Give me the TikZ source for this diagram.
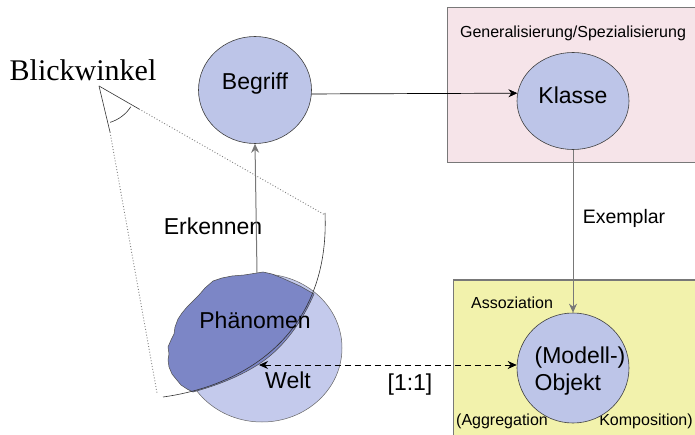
\documentclass[tikz,border=0pt]{standalone}
\usepackage{fontspec}
\setmainfont{Liberation Sans}
\newfontfamily\serifft{Liberation Serif}
\usetikzlibrary{arrows.meta,shapes.geometric}
\definecolor{circ}{RGB}{189,197,232}
\definecolor{weltc}{RGB}{196,202,236}
\definecolor{blobc}{RGB}{124,134,198}
\definecolor{pinkbg}{RGB}{246,228,233}
\definecolor{yellowbg}{RGB}{242,242,172}
\definecolor{edgegray}{RGB}{120,120,120}
\tikzset{
  bub/.style={ellipse, draw=black!75, line width=0.6pt, fill=circ, inner sep=0pt},
  big/.style={font=\fontsize{23}{27}\selectfont},
  mid/.style={font=\fontsize{19.5}{23}\selectfont},
  small/.style={font=\fontsize{16}{19}\selectfont},
  arr/.style={-{Stealth[length=9pt,width=8pt]}, line width=0.7pt},
  grayline/.style={draw=edgegray, line width=1pt},
  frame/.style={draw=edgegray, line width=1pt},
  view/.style={draw=gray, dotted, line width=0.9pt},
  thin/.style={draw=black!80, line width=0.6pt}
}
\begin{document}
\begin{tikzpicture}[x=1pt,y=-1pt]
\useasboundingbox (0,0) rectangle (695,435);
\fill[white] (0,0) rectangle (695,435);
% boxes
\path[frame, fill=pinkbg] (447,8) rectangle (698,163);
\path[frame, fill=yellowbg] (453,280) rectangle (698,438);
\node[small] (gs) at (573,33) {Generalisierung/Spezialisierung};
\node[small] (ass) at (512,303) {Assoziation};
\node[small] (agg) at (502,421) {(Aggregation};
\node[small] (komp) at (646,421) {Komposition)};
% circles
\node[bub, minimum width=113pt, minimum height=107pt,
      label={[big,yshift=6pt]center:Begriff}] (Begriff) at (255,90) {};
\node[bub, minimum width=112pt, minimum height=97pt,
      label={[big,yshift=6pt]center:Klasse}] (Klasse) at (573,101) {};
\node[bub, minimum width=112pt, minimum height=110pt,
      label={[big,align=left,xshift=7pt,yshift=-3pt]center:(Modell-)\\Objekt}] (Objekt) at (573,368) {};
% Welt
\node[ellipse, draw=black!60, line width=0.5pt, fill=weltc, minimum width=160pt, minimum height=148pt] (Welt) at (262,348) {};
% blob
\path[draw=black!70, line width=0.5pt, fill=blobc]
  (257,273) -- (263,272) -- (272,274) -- (282,278) -- (291,282) -- (300,286) -- (307,290) -- (314,294)
  .. controls (303,320) and (285,346) .. (262,362)
  .. controls (240,377) and (215,386) .. (193,392)
  -- (187,389) -- (181,385) -- (176,379) -- (172,374) -- (169,367) -- (168,360) -- (169,354) -- (168,347)
  -- (171,340) -- (174,334) -- (175,327) -- (178,319) -- (182,313) -- (187,307) -- (193,301) -- (199,295)
  -- (205,288) -- (213,281) -- (222,278) -- (232,276) -- (244,275) -- cycle;
\coordinate (top) at (257,273);
\coordinate (wl) at (259,365);
% horizon arc
\draw[thin] (163,397) .. controls (250,385) and (330,330) .. (325,213);
% view cone
\coordinate (apex) at (99,86);
\draw[thin] (apex) -- (139,109);
\draw[thin] (apex) -- (110,132);
\draw[view] (139,109) -- (325,215);
\draw[view] (110,132) -- (157,393);
\draw[thin] (apex) ++(73:38) arc[start angle=73, end angle=33, radius=38];
\node[font=\serifft\fontsize{30}{34}\selectfont] (bw) at (83,70) {Blickwinkel};
% labels
\node[big] (ph) at (255,320) {Phänomen};
\node[big] (weltl) at (288,380) {Welt};
\node[big] (erk) at (213,226) {Erkennen};
\node[mid] (ex) at (624,218) {Exemplar};
\node[big] (rel) at (410,385) {[1:1]};
% connectors
\draw[arr, grayline] (top) -- (Begriff.south);
\draw[arr] (Begriff.-4) -- (Klasse.172);
\draw[arr, grayline] (Klasse.south) -- (Objekt.north);
\draw[{Stealth[length=9pt,width=8pt]}-{Stealth[length=9pt,width=8pt]}, dashed, dash pattern=on 6pt off 4pt, line width=0.8pt] (wl) -- (Objekt.west |- wl);
\end{tikzpicture}
\end{document}
